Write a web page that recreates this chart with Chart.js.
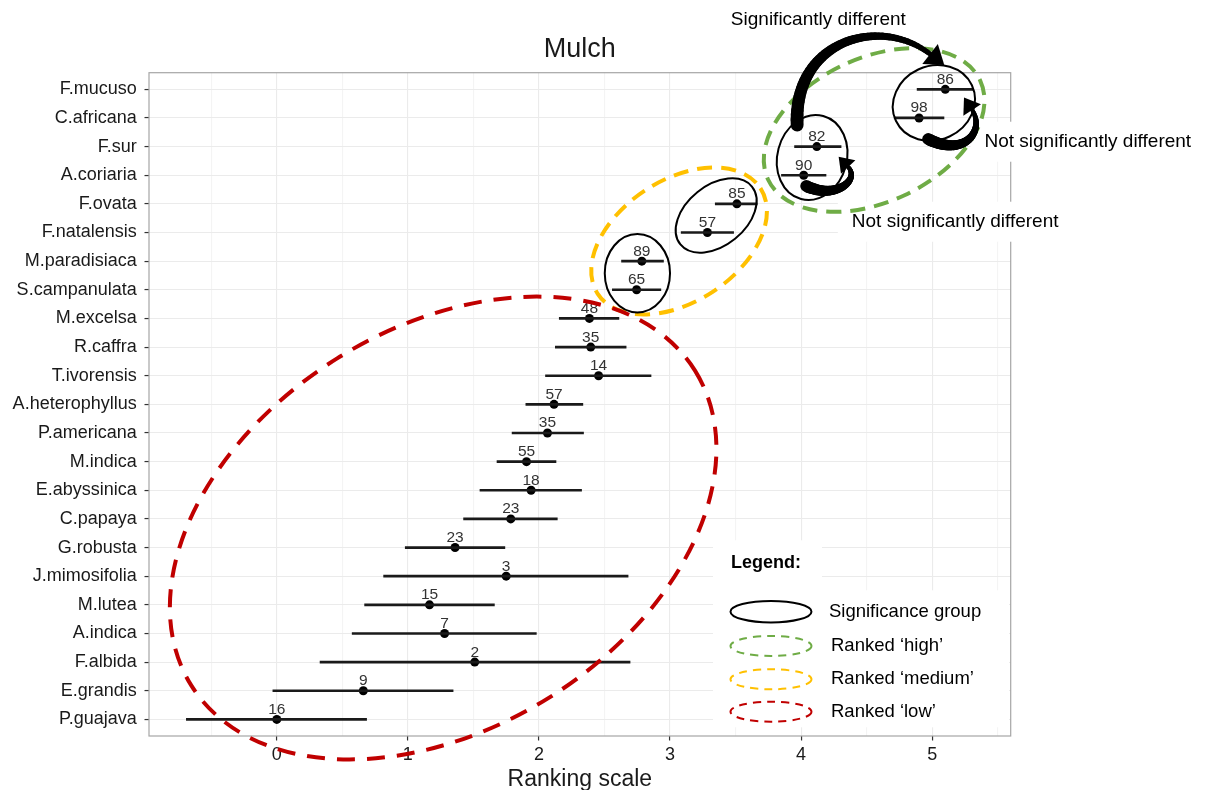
<!DOCTYPE html>
<html>
<head>
<meta charset="utf-8">
<title>Mulch</title>
<script src="https://cdn.jsdelivr.net/npm/chart.js@4.4.1/dist/chart.umd.min.js"></script>
<style>
  html, body { margin: 0; padding: 0; background: #fff; }
  canvas { display: block; }
</style>
</head>
<body>
<canvas id="chart" width="1218" height="790"></canvas>
<script>
// Arter, fra top til bund
const species = [
  "F.mucuso", "C.africana", "F.sur", "A.coriaria", "F.ovata", "F.natalensis",
  "M.paradisiaca", "S.campanulata", "M.excelsa", "R.caffra", "T.ivorensis",
  "A.heterophyllus", "P.americana", "M.indica", "E.abyssinica", "C.papaya",
  "G.robusta", "J.mimosifolia", "M.lutea", "A.indica", "F.albida", "E.grandis", "P.guajava"
];

// Gennemsnit på rangskalaen
const means = [
  5.10, 4.90, 4.12, 4.02, 3.51, 3.285,
  2.785, 2.745, 2.385, 2.395, 2.455,
  2.115, 2.065, 1.905, 1.94, 1.785,
  1.36, 1.75, 1.165, 1.28, 1.51, 0.66, 0.0
];

// Nedre og øvre ende af fejlbjælkerne
const lower = [
  4.885, 4.71, 3.95, 3.85, 3.345, 3.085,
  2.63, 2.56, 2.155, 2.125, 2.05,
  1.90, 1.795, 1.68, 1.55, 1.425,
  0.98, 0.815, 0.67, 0.575, 0.33, -0.03, -0.69
];
const upper = [
  5.315, 5.09, 4.305, 4.19, 3.665, 3.485,
  2.95, 2.93, 2.61, 2.665, 2.855,
  2.335, 2.34, 2.13, 2.325, 2.14,
  1.74, 2.68, 1.66, 1.98, 2.695, 1.345, 0.685
];

// Antal observationer (tallet over hvert punkt)
const counts = [
  86, 98, 82, 90, 85, 57,
  89, 65, 48, 35, 14,
  57, 35, 55, 18, 23,
  23, 3, 15, 7, 2, 9, 16
];

// Akse-ticks (hele tal får label, halve er kun hjælpelinjer)
const xTicks = [-0.5, 0, 0.5, 1, 1.5, 2, 2.5, 3, 3.5, 4, 4.5, 5, 5.5];

// Annoteringer i data-enheder (x = rangskala, y = art-indeks)
const sigGroups = [
  { x: 2.751, y: 6.421, a: 0.249, b: 0.299, rot: 0 },
  { x: 3.352, y: 4.406, a: 0.351, b: 0.229, rot: -39 },
  { x: 4.084, y: 2.381, a: 0.265, b: 0.328, rot: 15 },
  { x: 5.013, y: 0.478, a: 0.320, b: 0.282, rot: -25 }
];
const rankGroups = [
  { x: 4.557, y: 1.421, a: 0.893, b: 0.549, rot: -25, color: "#6FAC46", dash: [15, 9] },
  { x: 3.069, y: 5.297, a: 0.740, b: 0.465, rot: -33, color: "#FFC000", dash: [15, 9] },
  { x: 1.269, y: 15.318, a: 2.266, b: 1.526, rot: -32, color: "#C00000", dash: [18, 12] }
];
const arrows = [
  { pts: [[3.970, 1.247], [3.939, -1.721], [4.603, -2.594], [4.984, -1.232]], w0: 13, w1: 5, head: 18 },
  { pts: [[4.039, 3.376], [4.260, 3.865], [4.451, 3.167], [4.359, 2.713]], w0: 12, w1: 4, head: 14 },
  { pts: [[4.969, 1.735], [5.251, 2.399], [5.404, 1.421], [5.305, 0.723]], w0: 12, w1: 4, head: 15 }
];
const notes = [
  { text: "Significantly different", x: 3.464, y: -2.444 },
  { text: "Not significantly different", x: 5.399, y: 1.830 },
  { text: "Not significantly different", x: 4.387, y: 4.623 }
];
const legendTitle = "Legend:";
const legendItems = ["Significance group", "Ranked \u2018high\u2019", "Ranked \u2018medium\u2019", "Ranked \u2018low\u2019"];
const legendColors = ["#000000", "#6FAC46", "#FFC000", "#C00000"];
const legendAnchor = { x: 3.465, y: 16.55 };

const FONT = '"Liberation Sans", Arial, Helvetica, sans-serif';

function bezierPt(p, t) {
  const u = 1 - t;
  const a = u * u * u, b = 3 * u * u * t, c = 3 * u * t * t, d = t * t * t;
  return [
    a * p[0][0] + b * p[1][0] + c * p[2][0] + d * p[3][0],
    a * p[0][1] + b * p[1][1] + c * p[2][1] + d * p[3][1]
  ];
}

function drawArrow(ctx, pts, w0, w1, head) {
  ctx.save();
  ctx.strokeStyle = "#000";
  ctx.fillStyle = "#000";
  ctx.lineCap = "round";
  const n = 50;
  let prev = bezierPt(pts, 0);
  for (let i = 1; i <= n; i++) {
    const t = i / n;
    const cur = bezierPt(pts, t);
    ctx.lineWidth = w0 + (w1 - w0) * t;
    ctx.beginPath();
    ctx.moveTo(prev[0], prev[1]);
    ctx.lineTo(cur[0], cur[1]);
    ctx.stroke();
    prev = cur;
  }
  const [x3, y3] = pts[3];
  const [x2, y2] = pts[2];
  let dx = x3 - x2, dy = y3 - y2;
  const len = Math.hypot(dx, dy);
  dx /= len; dy /= len;
  const hw = head * 0.7;
  ctx.beginPath();
  ctx.moveTo(x3 + dx * head, y3 + dy * head);
  ctx.lineTo(x3 - dy * hw, y3 + dx * hw);
  ctx.lineTo(x3 + dy * hw, y3 - dx * hw);
  ctx.closePath();
  ctx.fill();
  ctx.restore();
}

const overlay = {
  id: "overlay",
  beforeDatasetsDraw(chart) {
    // panelramme som i ggplot theme_bw
    const { ctx, chartArea: ca } = chart;
    ctx.save();
    ctx.strokeStyle = "#a6a6a6";
    ctx.lineWidth = 1.2;
    ctx.strokeRect(ca.left, ca.top, ca.right - ca.left, ca.bottom - ca.top);
    ctx.restore();
  },
  afterDatasetsDraw(chart) {
    // antal over hvert punkt
    const { ctx } = chart;
    const meta = chart.getDatasetMeta(1);
    ctx.save();
    ctx.font = "15.5px " + FONT;
    ctx.fillStyle = "#333333";
    ctx.textAlign = "center";
    ctx.textBaseline = "alphabetic";
    meta.data.forEach((pt, i) => {
      ctx.fillText(String(counts[i]), pt.x, pt.y - 5.5);
    });
    ctx.restore();
  },
  afterDraw(chart) {
    const { ctx } = chart;
    const xs = chart.scales.x, ys = chart.scales.y;
    const X = v => xs.getPixelForValue(v);
    const Y = v => ys.getPixelForValue(v);
    const unit = X(1) - X(0);

    // hvide felter bag tekster og legend
    ctx.save();
    ctx.fillStyle = "#ffffff";
    ctx.font = "19px " + FONT;
    notes.forEach(n => {
      const w = ctx.measureText(n.text).width;
      ctx.fillRect(X(n.x) - 14, Y(n.y) - 20, w + 20, 40);
    });
    const lx = X(legendAnchor.x), ly = Y(legendAnchor.y);
    ctx.fillRect(lx - 18, ly - 23, 109, 187);
    ctx.fillRect(lx + 91, ly + 27, 187, 137);
    ctx.restore();

    // rangerings-ellipser (stiplede)
    rankGroups.forEach(g => {
      ctx.save();
      ctx.strokeStyle = g.color;
      ctx.lineWidth = 4;
      ctx.setLineDash(g.dash);
      ctx.beginPath();
      ctx.ellipse(X(g.x), Y(g.y), g.a * unit, g.b * unit, g.rot * Math.PI / 180, 0, Math.PI * 2);
      ctx.stroke();
      ctx.restore();
    });

    // signifikansgrupper (sorte ellipser)
    sigGroups.forEach(g => {
      ctx.save();
      ctx.strokeStyle = "#000";
      ctx.lineWidth = 2;
      ctx.beginPath();
      ctx.ellipse(X(g.x), Y(g.y), g.a * unit, g.b * unit, g.rot * Math.PI / 180, 0, Math.PI * 2);
      ctx.stroke();
      ctx.restore();
    });

    // pile
    arrows.forEach(a => {
      const p = a.pts.map(q => [X(q[0]), Y(q[1])]);
      drawArrow(ctx, p, a.w0, a.w1, a.head);
    });

    // tekster
    ctx.save();
    ctx.fillStyle = "#000";
    ctx.font = "19px " + FONT;
    ctx.textAlign = "left";
    ctx.textBaseline = "middle";
    notes.forEach(n => ctx.fillText(n.text, X(n.x), Y(n.y)));
    ctx.restore();

    // legend
    ctx.save();
    ctx.fillStyle = "#000";
    ctx.textAlign = "left";
    ctx.textBaseline = "middle";
    ctx.font = "bold 18px " + FONT;
    ctx.fillText(legendTitle, lx, ly);
    const rows = [48.4, 82.7, 116, 148.4];
    legendItems.forEach((label, i) => {
      ctx.save();
      ctx.strokeStyle = legendColors[i];
      ctx.lineWidth = 2;
      if (i > 0) ctx.setLineDash([8, 6]);
      ctx.beginPath();
      ctx.ellipse(lx + 40, ly + rows[i], 40.5, i === 0 ? 10.8 : 10, 0, 0, Math.PI * 2);
      ctx.stroke();
      ctx.restore();
      ctx.font = "18.5px " + FONT;
      ctx.fillText(label, lx + (i === 0 ? 98 : 100), ly + rows[i]);
    });
    ctx.restore();
  }
};

const barData = species.map((_, i) => ({ y: i, x: [lower[i], upper[i]] }));
const pointData = species.map((_, i) => ({ x: means[i], y: i }));

new Chart(document.getElementById("chart"), {
  type: "scatter",
  data: {
    datasets: [
      {
        type: "bar",
        label: "Interval",
        indexAxis: "y",
        data: barData,
        backgroundColor: "#1a1a1a",
        borderWidth: 0,
        barThickness: 2,
        grouped: false
      },
      {
        type: "scatter",
        label: "Middel",
        data: pointData,
        backgroundColor: "#000",
        borderWidth: 0,
        pointRadius: 4.5,
        pointHoverRadius: 4.5
      }
    ]
  },
  options: {
    responsive: false,
    animation: false,
    events: [],
    layout: { padding: { left: 0, right: 207.3, top: 0, bottom: 0 } },
    plugins: {
      legend: { display: false },
      tooltip: { enabled: false },
      title: {
        display: true,
        text: "Mulch",
        fullSize: false,
        color: "#1a1a1a",
        font: { family: FONT, size: 27, weight: "normal", lineHeight: 1.2 },
        padding: { top: 33.5, bottom: 6.8 }
      }
    },
    scales: {
      x: {
        type: "linear",
        min: -0.975,
        max: 5.599,
        offset: false,
        afterBuildTicks: axis => { axis.ticks = xTicks.map(v => ({ value: v })); },
        afterFit: axis => { axis.height = 54; },
        border: { display: false },
        grid: {
          offset: false,
          color: c => (Number.isInteger(c.tick.value) ? "#ebebeb" : "#f4f4f4"),
          lineWidth: 1.1,
          tickLength: 4.5,
          tickColor: c => (Number.isInteger(c.tick.value) ? "#333333" : "rgba(0,0,0,0)"),
          tickWidth: 1.2
        },
        ticks: {
          autoSkip: false,
          maxRotation: 0,
          padding: 4,
          color: "#1a1a1a",
          font: { family: FONT, size: 18 },
          callback: v => (Number.isInteger(v) ? String(v) : "")
        },
        title: {
          display: true,
          text: "Ranking scale",
          color: "#1a1a1a",
          font: { family: FONT, size: 23, lineHeight: 0.9 },
          padding: { top: 0, bottom: 0 }
        }
      },
      y: {
        type: "linear",
        reverse: true,
        min: -0.58,
        max: species.length - 1 + 0.58,
        offset: false,
        afterBuildTicks: axis => { axis.ticks = species.map((_, i) => ({ value: i })); },
        afterFit: axis => { axis.width = 149; },
        border: { display: false },
        grid: {
          offset: false,
          color: "#ebebeb",
          lineWidth: 1.1,
          tickLength: 4.5,
          tickColor: "#333333",
          tickWidth: 1.2
        },
        ticks: {
          autoSkip: false,
          padding: 7.8,
          color: "#1a1a1a",
          font: { family: FONT, size: 18 },
          callback: v => species[v] ?? ""
        }
      }
    }
  },
  plugins: [overlay]
});
</script>
</body>
</html>
